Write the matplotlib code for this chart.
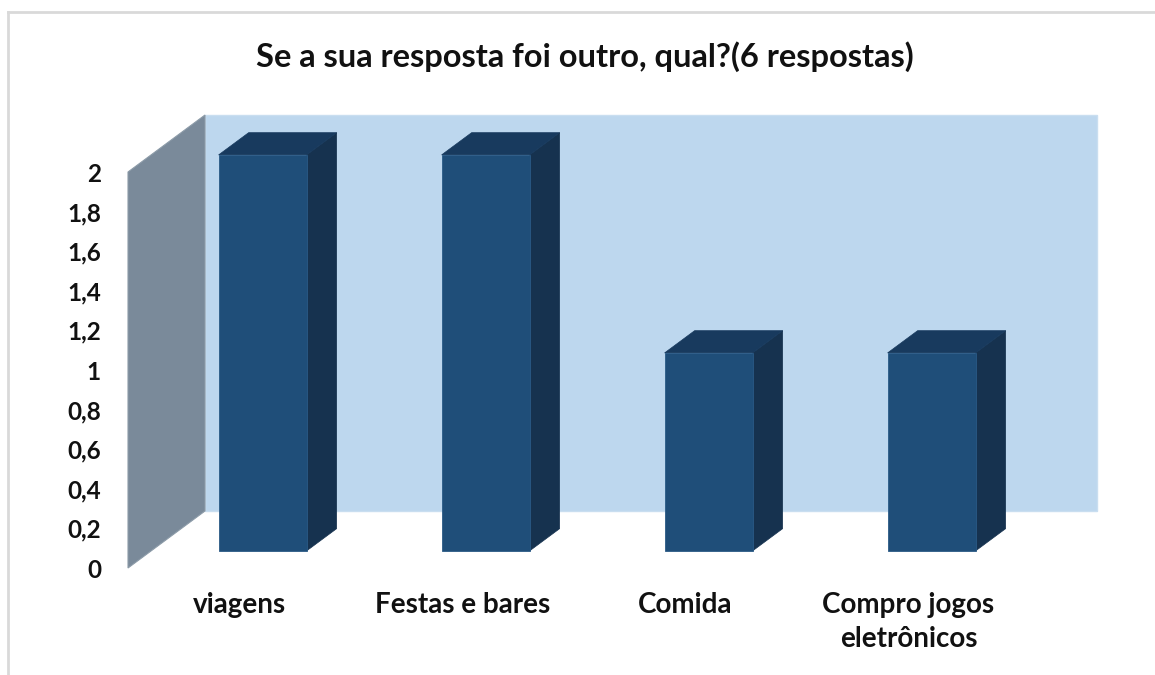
import matplotlib
matplotlib.use("Agg")
import matplotlib.pyplot as plt
from matplotlib.patches import Polygon
from matplotlib.lines import Line2D

title = "Se a sua resposta foi outro, qual?(6 respostas)"
categories = ["viagens", "Festas e bares", "Comida", "Compro jogos\neletrônicos"]
values = [2, 2, 1, 1]
yticks = [0, 0.2, 0.4, 0.6, 0.8, 1, 1.2, 1.4, 1.6, 1.8, 2]
ytick_labels = ["0", "0,2", "0,4", "0,6", "0,8", "1", "1,2", "1,4", "1,6", "1,8", "2"]

FONT = ["Lato", "DejaVu Sans"]
plt.rcParams["font.family"] = FONT

W, H = 1155, 675
fig = plt.figure(figsize=(W / 100, H / 100), dpi=100)
ax = fig.add_axes([128 / W, (H - 568) / H, 892 / W, 396 / H])
ax.set_xlim(-0.5, 3.5)
ax.set_ylim(0, 2)
for s in ax.spines.values():
    s.set_visible(False)
ax.patch.set_visible(False)

# depth (in data units) of the 3-D box
DX = 77 / 223
DY = 57 / 198
wall_back = "#BDD7EE"
wall_side = "#7A8A9A"
bar_front = "#1F4E79"
bar_top = "#183A5E"
bar_side = "#16324F"

x0, x1 = -0.5, len(categories) - 0.5
ytop = max(yticks)
# back wall
ax.add_patch(Polygon([(x0 + DX, DY), (x1 + DX, DY), (x1 + DX, ytop + DY), (x0 + DX, ytop + DY)],
                     closed=True, facecolor=wall_back, edgecolor="#C9DEF0", lw=1, clip_on=False, zorder=1))
# left wall
ax.add_patch(Polygon([(x0, 0), (x0, ytop), (x0 + DX, ytop + DY), (x0 + DX, DY)],
                     closed=True, facecolor=wall_side, edgecolor="#8C9BA8", lw=0.8, clip_on=False, zorder=1))

bw = 88 / 223
f1, f2 = 0.30, 0.69
for i, v in enumerate(values):
    xl = i - bw / 2 + f1 * DX
    yb = f1 * DY
    xr = xl + bw
    ddx = (f2 - f1) * DX
    ddy = (f2 - f1) * DY
    yt = yb + v
    # side
    ax.add_patch(Polygon([(xr, yb), (xr + ddx, yb + ddy), (xr + ddx, yt + ddy), (xr, yt)],
                         closed=True, facecolor=bar_side, edgecolor=bar_side, lw=0.5, clip_on=False, zorder=3))
    # top
    ax.add_patch(Polygon([(xl, yt), (xr, yt), (xr + ddx, yt + ddy), (xl + ddx, yt + ddy)],
                         closed=True, facecolor=bar_top, edgecolor=bar_top, lw=0.5, clip_on=False, zorder=3))
    # front
    ax.add_patch(Polygon([(xl, yb), (xr, yb), (xr, yt), (xl, yt)],
                         closed=True, facecolor=bar_front, edgecolor="#2A5A86", lw=0.6, clip_on=False, zorder=4))

ax.set_yticks(yticks)
ax.set_yticklabels(ytick_labels)
ax.set_xticks(range(len(categories)))
ax.set_xticklabels(categories, linespacing=1.35)
ax.tick_params(axis="y", length=0, pad=19.5, labelsize=17.5)
ax.tick_params(axis="x", length=0, pad=17.5, labelsize=20)
for lab in ax.get_yticklabels() + ax.get_xticklabels():
    lab.set_fontweight("bold")
    lab.set_color("#111111")

fig.text(585 / W, 1 - 57 / H, title, ha="center", va="center", fontsize=23.5,
         fontweight="bold", color="#111111")

# outer chart border (top and left visible)
fig.add_artist(Line2D([8 / W, 8 / W], [0, 1 - 12 / H], transform=fig.transFigure, color="#D9D9D9", lw=2))
fig.add_artist(Line2D([8 / W, 1], [1 - 12 / H, 1 - 12 / H], transform=fig.transFigure, color="#D9D9D9", lw=2))

fig.savefig("out.png", dpi=100)
